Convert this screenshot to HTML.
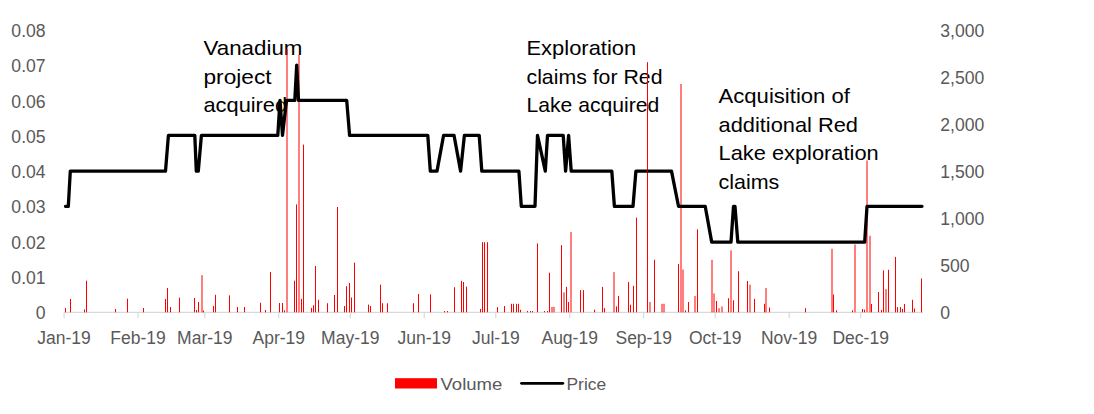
<!DOCTYPE html><html><head><meta charset="utf-8"><style>html,body{margin:0;padding:0;background:#fff;width:1094px;height:414px;overflow:hidden}svg{display:block}text{font-family:"Liberation Sans",sans-serif}</style></head><body>
<svg width="1094" height="414" viewBox="0 0 1094 414">
<rect width="1094" height="414" fill="#fff"/>
<text x="45.6" y="37.1" font-size="17.6" fill="#595959" text-anchor="end">0.08</text>
<text x="45.6" y="72.3" font-size="17.6" fill="#595959" text-anchor="end">0.07</text>
<text x="45.6" y="107.6" font-size="17.6" fill="#595959" text-anchor="end">0.06</text>
<text x="45.6" y="142.8" font-size="17.6" fill="#595959" text-anchor="end">0.05</text>
<text x="45.6" y="178.1" font-size="17.6" fill="#595959" text-anchor="end">0.04</text>
<text x="45.6" y="213.3" font-size="17.6" fill="#595959" text-anchor="end">0.03</text>
<text x="45.6" y="248.6" font-size="17.6" fill="#595959" text-anchor="end">0.02</text>
<text x="45.6" y="283.9" font-size="17.6" fill="#595959" text-anchor="end">0.01</text>
<text x="45.6" y="319.1" font-size="17.6" fill="#595959" text-anchor="end">0</text>
<text x="940.3" y="37.1" font-size="17.6" fill="#595959">3,000</text>
<text x="940.3" y="84.1" font-size="17.6" fill="#595959">2,500</text>
<text x="940.3" y="131.1" font-size="17.6" fill="#595959">2,000</text>
<text x="940.3" y="178.1" font-size="17.6" fill="#595959">1,500</text>
<text x="940.3" y="225.1" font-size="17.6" fill="#595959">1,000</text>
<text x="940.3" y="272.1" font-size="17.6" fill="#595959">500</text>
<text x="940.3" y="319.1" font-size="17.6" fill="#595959">0</text>
<text x="64.1" y="343.8" font-size="17.5" fill="#595959" text-anchor="middle">Jan-19</text>
<text x="138.0" y="343.8" font-size="17.5" fill="#595959" text-anchor="middle">Feb-19</text>
<text x="204.8" y="343.8" font-size="17.5" fill="#595959" text-anchor="middle">Mar-19</text>
<text x="278.8" y="343.8" font-size="17.5" fill="#595959" text-anchor="middle">Apr-19</text>
<text x="350.3" y="343.8" font-size="17.5" fill="#595959" text-anchor="middle">May-19</text>
<text x="424.2" y="343.8" font-size="17.5" fill="#595959" text-anchor="middle">Jun-19</text>
<text x="495.8" y="343.8" font-size="17.5" fill="#595959" text-anchor="middle">Jul-19</text>
<text x="569.7" y="343.8" font-size="17.5" fill="#595959" text-anchor="middle">Aug-19</text>
<text x="643.7" y="343.8" font-size="17.5" fill="#595959" text-anchor="middle">Sep-19</text>
<text x="715.2" y="343.8" font-size="17.5" fill="#595959" text-anchor="middle">Oct-19</text>
<text x="789.1" y="343.8" font-size="17.5" fill="#595959" text-anchor="middle">Nov-19</text>
<text x="860.7" y="343.8" font-size="17.5" fill="#595959" text-anchor="middle">Dec-19</text>
<text x="203.5" y="54.8" font-size="20.6" fill="#000" textLength="99.0" lengthAdjust="spacingAndGlyphs">Vanadium</text>
<text x="203.5" y="83.5" font-size="20.6" fill="#000" textLength="68.0" lengthAdjust="spacingAndGlyphs">project</text>
<text x="203.5" y="112.2" font-size="20.6" fill="#000" textLength="83.6" lengthAdjust="spacingAndGlyphs">acquired</text>
<text x="526.5" y="55.0" font-size="20.6" fill="#000" textLength="109.7" lengthAdjust="spacingAndGlyphs">Exploration</text>
<text x="526.5" y="83.7" font-size="20.6" fill="#000" textLength="136.0" lengthAdjust="spacingAndGlyphs">claims for Red</text>
<text x="526.5" y="112.4" font-size="20.6" fill="#000" textLength="132.8" lengthAdjust="spacingAndGlyphs">Lake acquired</text>
<text x="718.5" y="102.8" font-size="20.6" fill="#000" textLength="131.5" lengthAdjust="spacingAndGlyphs">Acquisition of</text>
<text x="718.5" y="131.5" font-size="20.6" fill="#000" textLength="139.5" lengthAdjust="spacingAndGlyphs">additional Red</text>
<text x="718.5" y="160.2" font-size="20.6" fill="#000" textLength="160.2" lengthAdjust="spacingAndGlyphs">Lake exploration</text>
<text x="718.5" y="188.9" font-size="20.6" fill="#000" textLength="60.8" lengthAdjust="spacingAndGlyphs">claims</text>
<line x1="64.1" y1="312.4" x2="923" y2="312.4" stroke="#d9d9d9" stroke-width="1.2"/>
<line x1="64.10" y1="312.4" x2="64.10" y2="318.2" stroke="#d9d9d9" stroke-width="1.2"/>
<line x1="138.03" y1="312.4" x2="138.03" y2="318.2" stroke="#d9d9d9" stroke-width="1.2"/>
<line x1="204.81" y1="312.4" x2="204.81" y2="318.2" stroke="#d9d9d9" stroke-width="1.2"/>
<line x1="278.75" y1="312.4" x2="278.75" y2="318.2" stroke="#d9d9d9" stroke-width="1.2"/>
<line x1="350.30" y1="312.4" x2="350.30" y2="318.2" stroke="#d9d9d9" stroke-width="1.2"/>
<line x1="424.24" y1="312.4" x2="424.24" y2="318.2" stroke="#d9d9d9" stroke-width="1.2"/>
<line x1="495.78" y1="312.4" x2="495.78" y2="318.2" stroke="#d9d9d9" stroke-width="1.2"/>
<line x1="569.72" y1="312.4" x2="569.72" y2="318.2" stroke="#d9d9d9" stroke-width="1.2"/>
<line x1="643.65" y1="312.4" x2="643.65" y2="318.2" stroke="#d9d9d9" stroke-width="1.2"/>
<line x1="715.20" y1="312.4" x2="715.20" y2="318.2" stroke="#d9d9d9" stroke-width="1.2"/>
<line x1="789.14" y1="312.4" x2="789.14" y2="318.2" stroke="#d9d9d9" stroke-width="1.2"/>
<line x1="860.69" y1="312.4" x2="860.69" y2="318.2" stroke="#d9d9d9" stroke-width="1.2"/>
<g fill="#ff0000"><rect x="65.00" y="308.0" width="1.0" height="4.3"/><rect x="70.00" y="299.0" width="1.0" height="13.3"/><rect x="84.00" y="309.4" width="1.0" height="2.9"/><rect x="86.00" y="280.7" width="1.0" height="31.6"/><rect x="115.00" y="309.0" width="1.0" height="3.3"/><rect x="127.00" y="298.7" width="1.0" height="13.6"/><rect x="143.00" y="308.0" width="1.0" height="4.3"/><rect x="165.00" y="299.0" width="1.0" height="13.3"/><rect x="167.00" y="288.0" width="1.0" height="24.3"/><rect x="170.00" y="307.0" width="1.0" height="5.3"/><rect x="179.00" y="297.7" width="1.0" height="14.6"/><rect x="194.00" y="298.0" width="1.0" height="14.3"/><rect x="196.00" y="310.0" width="1.0" height="2.3"/><rect x="198.00" y="302.0" width="1.0" height="10.3"/><rect x="201.50" y="275.1" width="1.0" height="37.2"/><rect x="203.00" y="310.5" width="1.0" height="1.8"/><rect x="213.00" y="306.0" width="1.0" height="6.3"/><rect x="215.00" y="294.8" width="1.0" height="17.5"/><rect x="229.00" y="295.4" width="1.0" height="16.9"/><rect x="237.00" y="307.0" width="1.0" height="5.3"/><rect x="244.00" y="307.0" width="1.0" height="5.3"/><rect x="260.00" y="302.8" width="1.0" height="9.5"/><rect x="265.00" y="310.0" width="1.0" height="2.3"/><rect x="270.00" y="272.0" width="1.0" height="40.3"/><rect x="279.00" y="303.0" width="1.0" height="9.3"/><rect x="282.00" y="303.0" width="1.0" height="9.3"/><rect x="284.00" y="310.3" width="1.0" height="2.0"/><rect x="286.50" y="49.0" width="1.0" height="263.3"/><rect x="294.00" y="280.7" width="1.0" height="31.6"/><rect x="296.00" y="204.4" width="1.0" height="107.9"/><rect x="298.50" y="55.0" width="1.0" height="257.3"/><rect x="301.00" y="298.8" width="1.0" height="13.5"/><rect x="303.00" y="144.6" width="1.0" height="167.7"/><rect x="311.00" y="307.9" width="1.0" height="4.4"/><rect x="313.00" y="305.2" width="1.0" height="7.1"/><rect x="315.00" y="266.0" width="1.0" height="46.3"/><rect x="318.00" y="299.8" width="1.0" height="12.5"/><rect x="327.00" y="303.2" width="1.0" height="9.1"/><rect x="334.00" y="295.0" width="1.0" height="17.3"/><rect x="337.00" y="207.0" width="1.0" height="105.3"/><rect x="344.00" y="306.0" width="1.0" height="6.3"/><rect x="346.00" y="286.2" width="1.0" height="26.1"/><rect x="349.00" y="283.0" width="1.0" height="29.3"/><rect x="351.00" y="297.5" width="1.0" height="14.8"/><rect x="354.00" y="262.7" width="1.0" height="49.6"/><rect x="368.00" y="304.6" width="1.0" height="7.7"/><rect x="370.00" y="306.0" width="1.0" height="6.3"/><rect x="380.00" y="284.7" width="1.0" height="27.6"/><rect x="382.00" y="303.2" width="1.0" height="9.1"/><rect x="387.00" y="303.2" width="1.0" height="9.1"/><rect x="413.00" y="303.2" width="1.0" height="9.1"/><rect x="418.00" y="294.0" width="1.0" height="18.3"/><rect x="430.00" y="294.4" width="1.0" height="17.9"/><rect x="444.00" y="311.0" width="1.0" height="1.3"/><rect x="447.00" y="311.0" width="1.0" height="1.3"/><rect x="454.00" y="287.2" width="1.0" height="25.1"/><rect x="461.00" y="280.8" width="1.0" height="31.5"/><rect x="463.00" y="282.0" width="1.0" height="30.3"/><rect x="466.00" y="286.6" width="1.0" height="25.7"/><rect x="480.00" y="309.0" width="1.0" height="3.3"/><rect x="482.00" y="242.2" width="1.0" height="70.1"/><rect x="484.00" y="242.2" width="1.0" height="70.1"/><rect x="487.00" y="242.2" width="1.0" height="70.1"/><rect x="497.00" y="307.1" width="1.0" height="5.2"/><rect x="504.00" y="306.0" width="1.0" height="6.3"/><rect x="511.00" y="303.8" width="1.0" height="8.5"/><rect x="513.00" y="303.8" width="1.0" height="8.5"/><rect x="516.00" y="303.8" width="1.0" height="8.5"/><rect x="518.00" y="303.8" width="1.0" height="8.5"/><rect x="520.00" y="309.7" width="1.0" height="2.6"/><rect x="527.00" y="311.0" width="1.0" height="1.3"/><rect x="530.00" y="311.0" width="1.0" height="1.3"/><rect x="532.00" y="311.0" width="1.0" height="1.3"/><rect x="537.00" y="243.4" width="1.0" height="68.9"/><rect x="544.00" y="311.0" width="1.0" height="1.3"/><rect x="547.00" y="311.0" width="1.0" height="1.3"/><rect x="549.00" y="272.7" width="1.0" height="39.6"/><rect x="551.50" y="306.9" width="1.0" height="5.4"/><rect x="553.50" y="306.9" width="1.0" height="5.4"/><rect x="561.00" y="245.1" width="1.0" height="67.2"/><rect x="563.50" y="292.3" width="1.0" height="20.0"/><rect x="566.00" y="286.9" width="1.0" height="25.4"/><rect x="568.00" y="302.0" width="1.0" height="10.3"/><rect x="570.50" y="232.1" width="1.0" height="80.2"/><rect x="580.00" y="290.1" width="1.0" height="22.2"/><rect x="583.00" y="290.1" width="1.0" height="22.2"/><rect x="594.00" y="309.7" width="1.0" height="2.6"/><rect x="602.00" y="286.9" width="1.0" height="25.4"/><rect x="604.00" y="308.2" width="1.0" height="4.1"/><rect x="613.50" y="272.1" width="1.0" height="40.2"/><rect x="616.00" y="306.4" width="1.0" height="5.9"/><rect x="618.00" y="296.0" width="1.0" height="16.3"/><rect x="628.00" y="282.1" width="1.0" height="30.2"/><rect x="630.00" y="304.7" width="1.0" height="7.6"/><rect x="633.00" y="285.8" width="1.0" height="26.5"/><rect x="636.00" y="217.6" width="1.0" height="94.7"/><rect x="647.00" y="62.3" width="1.0" height="250.0"/><rect x="649.50" y="302.0" width="1.0" height="10.3"/><rect x="654.00" y="259.7" width="1.0" height="52.6"/><rect x="661.50" y="303.8" width="1.0" height="8.5"/><rect x="663.50" y="303.8" width="1.0" height="8.5"/><rect x="678.00" y="264.0" width="1.0" height="48.3"/><rect x="680.50" y="84.0" width="1.0" height="228.3"/><rect x="682.50" y="269.5" width="1.0" height="42.8"/><rect x="685.00" y="310.3" width="1.0" height="2.0"/><rect x="688.00" y="302.0" width="1.0" height="10.3"/><rect x="694.50" y="296.0" width="1.0" height="16.3"/><rect x="697.00" y="229.3" width="1.0" height="83.0"/><rect x="711.50" y="259.7" width="1.0" height="52.6"/><rect x="713.50" y="293.4" width="1.0" height="18.9"/><rect x="716.00" y="301.0" width="1.0" height="11.3"/><rect x="718.50" y="308.2" width="1.0" height="4.1"/><rect x="721.50" y="306.4" width="1.0" height="5.9"/><rect x="728.00" y="298.2" width="1.0" height="14.1"/><rect x="730.50" y="250.3" width="1.0" height="62.0"/><rect x="733.00" y="300.3" width="1.0" height="12.0"/><rect x="738.00" y="271.2" width="1.0" height="41.1"/><rect x="747.00" y="281.0" width="1.0" height="31.3"/><rect x="749.50" y="284.7" width="1.0" height="27.6"/><rect x="754.00" y="298.8" width="1.0" height="13.5"/><rect x="764.00" y="303.8" width="1.0" height="8.5"/><rect x="765.50" y="288.0" width="1.0" height="24.3"/><rect x="769.00" y="307.5" width="1.0" height="4.8"/><rect x="805.00" y="308.2" width="1.0" height="4.1"/><rect x="831.50" y="248.8" width="1.0" height="63.5"/><rect x="833.00" y="294.5" width="1.0" height="17.8"/><rect x="836.00" y="310.3" width="1.0" height="2.0"/><rect x="852.00" y="310.3" width="1.0" height="2.0"/><rect x="854.50" y="244.5" width="1.0" height="67.8"/><rect x="862.00" y="309.0" width="1.0" height="3.3"/><rect x="864.00" y="309.7" width="1.0" height="2.6"/><rect x="866.50" y="160.5" width="1.0" height="151.8"/><rect x="869.50" y="235.8" width="1.0" height="76.5"/><rect x="871.00" y="304.0" width="1.0" height="8.3"/><rect x="878.00" y="292.0" width="1.0" height="20.3"/><rect x="881.00" y="310.0" width="1.0" height="2.3"/><rect x="883.00" y="270.5" width="1.0" height="41.8"/><rect x="885.50" y="289.1" width="1.0" height="23.2"/><rect x="888.00" y="269.8" width="1.0" height="42.5"/><rect x="895.00" y="256.9" width="1.0" height="55.4"/><rect x="897.00" y="307.1" width="1.0" height="5.2"/><rect x="900.00" y="307.1" width="1.0" height="5.2"/><rect x="902.00" y="309.0" width="1.0" height="3.3"/><rect x="904.00" y="304.0" width="1.0" height="8.3"/><rect x="912.00" y="299.8" width="1.0" height="12.5"/><rect x="914.00" y="308.5" width="1.0" height="3.8"/><rect x="921.00" y="278.5" width="1.0" height="33.8"/></g>
<polyline points="65.5,206.3 68.3,206.3 70.3,171.1 165.5,171.1 168.4,135.3 194.8,135.3 196.3,171.1 198.3,171.1 201.4,135.3 277.8,135.3 280.0,100.3 282.5,135.3 286.5,100.3 294.8,100.3 296.7,65.1 298.5,100.3 346.7,100.3 349.6,135.3 427.8,135.3 430.3,171.1 437.0,171.1 443.6,135.3 454.0,135.3 460.6,171.1 464.4,135.3 479.2,135.3 481.8,171.1 518.9,171.1 521.3,206.3 535.0,206.3 537.5,135.3 545.3,171.1 547.5,135.3 563.2,135.3 565.6,171.1 568.6,135.3 571.2,171.1 611.8,171.1 614.4,206.3 633.0,206.3 635.9,171.1 671.5,171.1 678.5,206.3 705.2,206.3 711.7,242.1 731.0,242.1 733.5,206.3 735.0,206.3 737.8,242.1 864.7,242.1 867.0,206.3 922.0,206.3" fill="none" stroke="#000" stroke-width="3.3" stroke-linejoin="round" stroke-linecap="round"/>
<rect x="647.0" y="62.3" width="1" height="250.0" fill="#ff0000" fill-opacity="0.55"/>
<rect x="395" y="378.2" width="42" height="10.3" fill="#ff0000"/>
<text x="440.5" y="389.7" font-size="17.3" fill="#595959" textLength="61.8" lengthAdjust="spacingAndGlyphs">Volume</text>
<line x1="521.5" y1="383.3" x2="562.8" y2="383.3" stroke="#000" stroke-width="2.8" stroke-linecap="round"/>
<text x="566.5" y="389.7" font-size="17.3" fill="#595959" textLength="39.6" lengthAdjust="spacingAndGlyphs">Price</text>
</svg></body></html>
